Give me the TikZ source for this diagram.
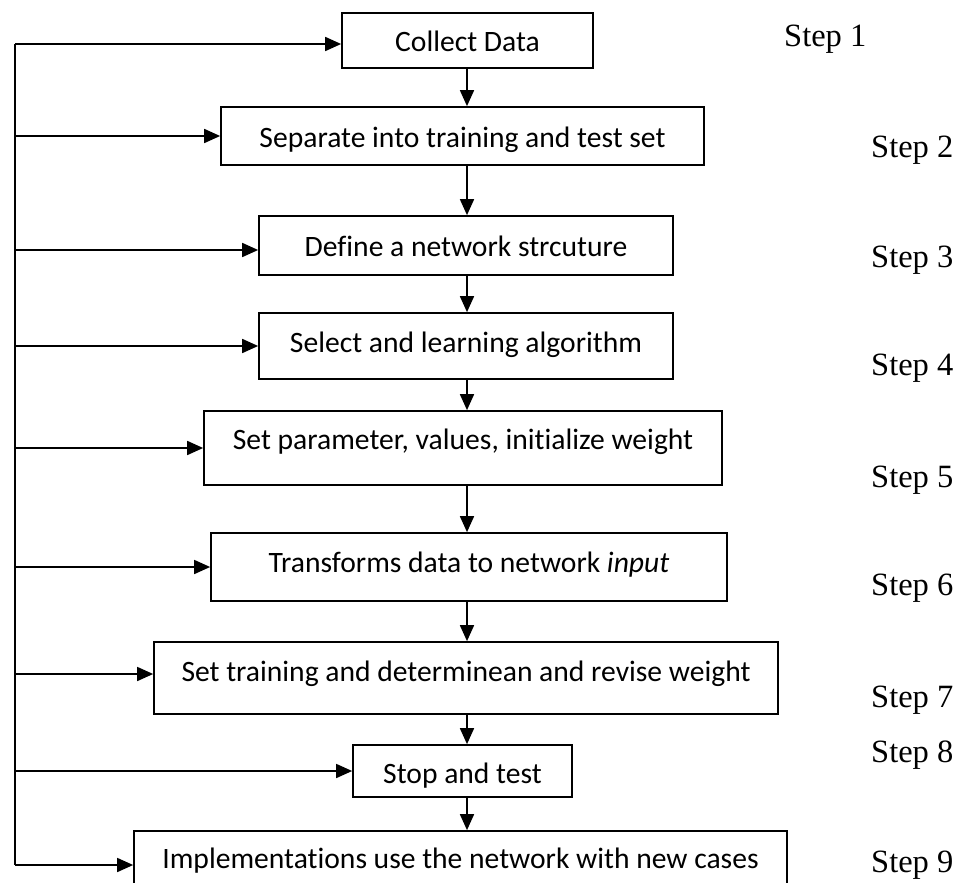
\documentclass[tikz,border=0pt]{standalone}
\usepackage{fontspec}
\setmainfont{Liberation Serif}
\newfontfamily\boxfont[Ligatures=NoCommon]{Carlito}
\usetikzlibrary{arrows.meta}
\begin{document}
\begin{tikzpicture}[x=1pt,y=-1pt,
  stepbox/.style={draw,line width=1.7pt,inner sep=0pt,
    font=\boxfont\fontsize{29.6}{33}\selectfont},
  % shifts the baseline to #1 pt below the box centre
  tb/.style={text height=12pt+#1pt,text depth=12pt-#1pt},
  steplabel/.style={anchor=base west,inner sep=0pt,font=\fontsize{32.5}{36}\selectfont},
  arr/.style={line width=1.7pt,-{Triangle[length=16pt,width=14pt]}},
  plain/.style={line width=1.7pt}]
\useasboundingbox (0,0) rectangle (958,883);
\clip (0,0) rectangle (958,883);
% process boxes (corners in pixel units)
\node[stepbox,tb=11,minimum width=251pt,minimum height=55pt] (b1) at (467.5,40.5) {Collect Data};
\node[stepbox,tb=11,minimum width=483pt,minimum height=58pt] (b2) at (462.5,136) {Separate into training and test set};
\node[stepbox,tb=11,minimum width=414pt,minimum height=59pt] (b3) at (466,245.5) {Define a network strcuture};
\node[stepbox,tb=6,minimum width=414pt,minimum height=66pt] (b4) at (466,346) {Select and learning algorithm};
\node[stepbox,tb=1,minimum width=518pt,minimum height=74pt] (b5) at (463,448) {Set parameter, values, initialize weight};
\node[stepbox,tb=5,minimum width=516pt,minimum height=68pt] (b6) at (469,567) {Transforms data to network \textit{input}};
\node[stepbox,tb=3,minimum width=624pt,minimum height=72pt] (b7) at (466,678) {Set training and determinean and revise weight};
\node[stepbox,tb=12,minimum width=219pt,minimum height=52pt] (b8) at (462.5,771) {Stop and test};
\node[stepbox,tb=3,minimum width=653pt,minimum height=68pt] (b9) at (460.5,865) {Implementations use the network with new cases};
% step labels
\node[steplabel] (s1) at (784,47) {Step 1};
\node[steplabel] (s2) at (871,157) {Step 2};
\node[steplabel] (s3) at (871,267) {Step 3};
\node[steplabel] (s4) at (871,375) {Step 4};
\node[steplabel] (s5) at (871,487) {Step 5};
\node[steplabel] (s6) at (871,595) {Step 6};
\node[steplabel] (s7) at (871,707) {Step 7};
\node[steplabel] (s8) at (871,762) {Step 8};
\node[steplabel] (s9) at (871,872) {Step 9};
% main flow down the column
\coordinate (flow) at (467,0);
\draw[arr] (b1.south -| flow) -- (b2.north -| flow);
\draw[arr] (b2.south -| flow) -- (b3.north -| flow);
\draw[arr] (b3.south -| flow) -- (b4.north -| flow);
\draw[arr] (b4.south -| flow) -- (b5.north -| flow);
\draw[arr] (b5.south -| flow) -- (b6.north -| flow);
\draw[arr] (b6.south -| flow) -- (b7.north -| flow);
\draw[arr] (b7.south -| flow) -- (b8.north -| flow);
\draw[arr] (b8.south -| flow) -- (b9.north -| flow);
% feedback spine on the left
\coordinate (spinetop) at (15,44);
\coordinate (spinebot) at (15,865);
\draw[plain] (spinetop) -- (spinebot);
\draw[arr] (spinetop) -- (spinetop -| b1.west);
\draw[arr] (spinetop |- b2.west) -- (b2.west);
\draw[arr] (spinetop |- 0,250) -- (b3.west |- 0,250);
\draw[arr] (spinetop |- b4.west) -- (b4.west);
\draw[arr] (spinetop |- b5.west) -- (b5.west);
\draw[arr] (spinetop |- b6.west) -- (b6.west);
\draw[arr] (spinetop |- 0,674) -- (b7.west |- 0,674);
\draw[arr] (spinetop |- b8.west) -- (b8.west);
\draw[arr] (spinebot) -- (spinebot -| b9.west);
\end{tikzpicture}
\end{document}
